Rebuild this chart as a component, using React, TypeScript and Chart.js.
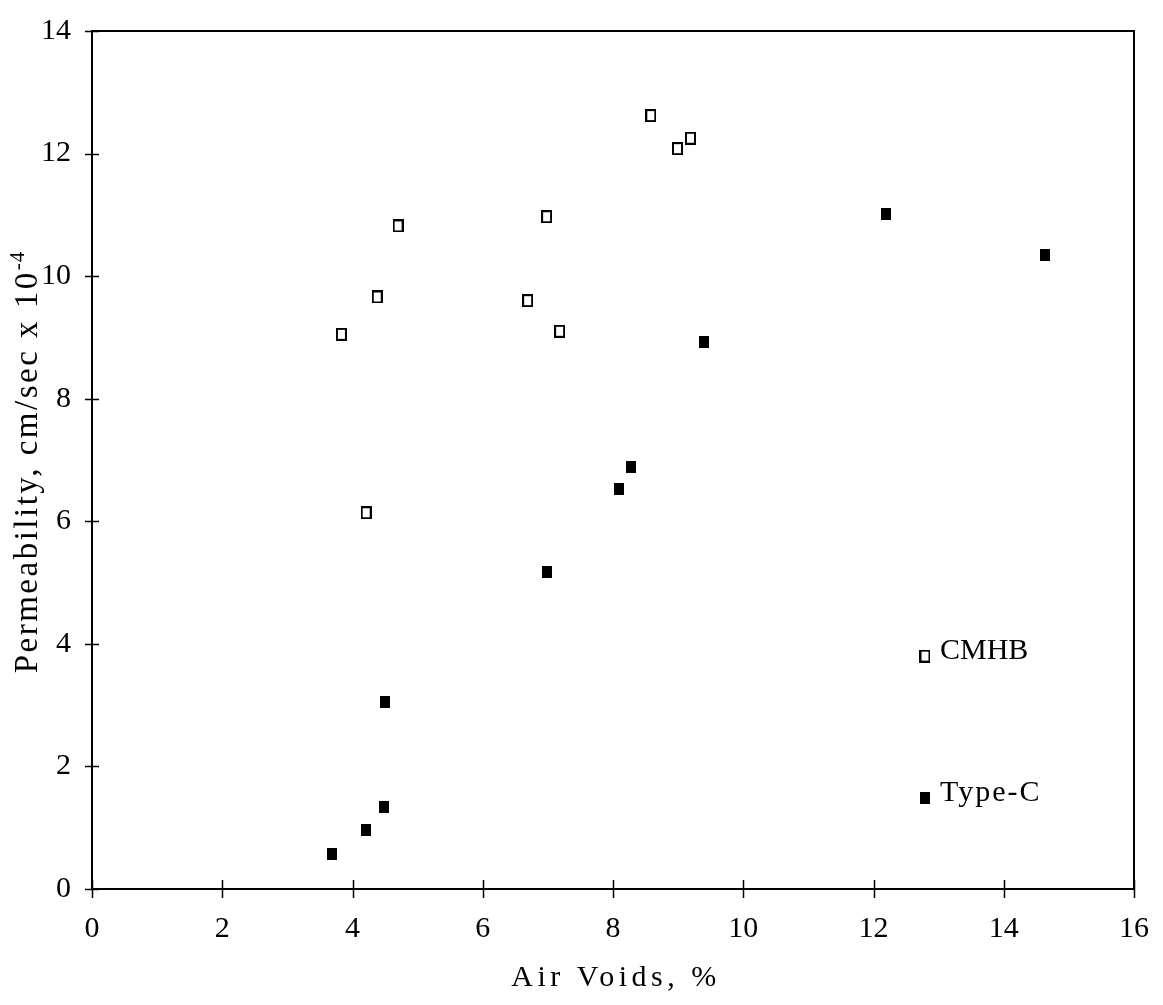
import React, { useEffect, useRef } from "react";
import { Chart, registerables } from "chart.js";

Chart.register(...registerables);

const xTicks = [0, 2, 4, 6, 8, 10, 12, 14, 16];
const yTicks = [0, 2, 4, 6, 8, 10, 12, 14];

const cmhbX = [3.83, 4.21, 4.38, 4.7, 6.69, 6.98, 7.18, 8.58, 8.99, 9.19];
const cmhbY = [9.05, 6.14, 9.66, 10.82, 9.6, 10.97, 9.1, 12.62, 12.08, 12.25];

const typeCX = [3.68, 4.2, 4.49, 4.5, 6.98, 8.09, 8.28, 9.39, 12.19, 14.64];
const typeCY = [0.57, 0.96, 1.33, 3.05, 5.18, 6.53, 6.89, 8.92, 11.01, 10.35];

const seriesNames = ["CMHB", "Type-C"];
const legendX = [12.79, 12.79];
const legendY = [3.8, 1.49];

const xTitle = "Air Voids, %";
const yTitleMain = "Permeability, cm/sec x 10";
const yTitleSup = "-4";

function makeOpen(): HTMLCanvasElement {
  const c = document.createElement("canvas");
  c.width = 11;
  c.height = 13;
  const g = c.getContext("2d")!;
  g.strokeStyle = "#000";
  g.lineWidth = 2;
  g.strokeRect(1, 1, 9, 11);
  return c;
}
function makeFilled(): HTMLCanvasElement {
  const c = document.createElement("canvas");
  c.width = 10;
  c.height = 12;
  const g = c.getContext("2d")!;
  g.fillStyle = "#000";
  g.fillRect(0, 0, 10, 12);
  return c;
}

const SERIF = "'Liberation Serif', 'Times New Roman', serif";

export default function App() {
  const ref = useRef<HTMLCanvasElement | null>(null);
  useEffect(() => {
    document.body.style.margin = "0";
    const openImg = makeOpen();
    const filledImg = makeFilled();
    const imgs = [openImg, filledImg];

    const framePlugin = {
      id: "frame",
      afterDraw(chart: any) {
        const ctx = chart.ctx as CanvasRenderingContext2D;
        const xs = chart.scales.x;
        const ys = chart.scales.y;
        const a = chart.chartArea;
        ctx.save();
        ctx.strokeStyle = "#000";
        ctx.lineWidth = 2;
        ctx.strokeRect(a.left, a.top, a.right - a.left, a.bottom - a.top);
        ctx.lineWidth = 1.5;
        ctx.beginPath();
        xTicks.forEach((v) => {
          const px = Math.round(xs.getPixelForValue(v)) + 0.5;
          ctx.moveTo(px, a.bottom - 9);
          ctx.lineTo(px, a.bottom + 9);
        });
        yTicks.forEach((v) => {
          const py = Math.round(ys.getPixelForValue(v)) + 0.5;
          ctx.moveTo(a.left - 7, py);
          ctx.lineTo(a.left + 7, py);
        });
        ctx.stroke();

        // axis titles
        ctx.fillStyle = "#000";
        (ctx as any).letterSpacing = "4.5px";
        ctx.font = `30px ${SERIF}`;
        ctx.textAlign = "center";
        ctx.textBaseline = "alphabetic";
        ctx.fillText(xTitle, (a.left + a.right) / 2 + 3, 986);

        ctx.save();
        ctx.translate(37, 462);
        ctx.rotate(-Math.PI / 2);
        (ctx as any).letterSpacing = "2.5px";
        ctx.font = `33px ${SERIF}`;
        const wMain = ctx.measureText(yTitleMain).width;
        ctx.font = `21px ${SERIF}`;
        (ctx as any).letterSpacing = "1px";
        const wSup = ctx.measureText(yTitleSup).width;
        const start = -(wMain + wSup) / 2;
        ctx.textAlign = "left";
        (ctx as any).letterSpacing = "2.5px";
        ctx.font = `33px ${SERIF}`;
        ctx.fillText(yTitleMain, start, 0);
        (ctx as any).letterSpacing = "1px";
        ctx.font = `21px ${SERIF}`;
        ctx.fillText(yTitleSup, start + wMain, -13);
        ctx.restore();

        // legend
        ctx.font = `30px ${SERIF}`;
        ctx.textAlign = "left";
        ctx.textBaseline = "middle";
        seriesNames.forEach((name, i) => {
          const px = xs.getPixelForValue(legendX[i]);
          const py = ys.getPixelForValue(legendY[i]);
          const im = imgs[i];
          ctx.drawImage(im, px - im.width / 2, py - im.height / 2);
          (ctx as any).letterSpacing = i === 1 ? "2px" : "0px";
          ctx.fillText(name, px + 15, py - 5);
        });
        ctx.restore();
      },
    };

    const chart = new Chart(ref.current!, {
      type: "scatter",
      data: {
        datasets: [
          {
            label: seriesNames[0],
            data: cmhbX.map((x, i) => ({ x, y: cmhbY[i] })),
            pointStyle: openImg as any,
            backgroundColor: "#000",
            borderColor: "#000",
          },
          {
            label: seriesNames[1],
            data: typeCX.map((x, i) => ({ x, y: typeCY[i] })),
            pointStyle: filledImg as any,
            backgroundColor: "#000",
            borderColor: "#000",
          },
        ],
      },
      options: {
        animation: false,
        responsive: false,
        devicePixelRatio: 1,
        layout: { padding: { top: 27, right: 26, left: 0, bottom: 0 } },
        plugins: {
          legend: { display: false },
          tooltip: { enabled: false },
        },
        scales: {
          x: {
            type: "linear",
            min: 0,
            max: 16,
            afterFit: (s: any) => {
              s.height = 116;
            },
            afterBuildTicks: (s: any) => {
              s.ticks = xTicks.map((v) => ({ value: v }));
            },
            grid: { display: false },
            border: { display: false },
            ticks: {
              color: "#000",
              padding: 14,
              font: { family: SERIF, size: 30 },
            },
          },
          y: {
            type: "linear",
            min: 0,
            max: 14,
            afterFit: (s: any) => {
              s.width = 92;
            },
            afterBuildTicks: (s: any) => {
              s.ticks = yTicks.map((v) => ({ value: v }));
            },
            grid: { display: false },
            border: { display: false },
            ticks: {
              color: "#000",
              padding: 13,
              font: { family: SERIF, size: 30 },
            },
          },
        },
      },
      plugins: [framePlugin],
    } as any);
    return () => chart.destroy();
  }, []);
  return <canvas ref={ref} width={1163} height={1005} style={{ display: "block" }} />;
}
